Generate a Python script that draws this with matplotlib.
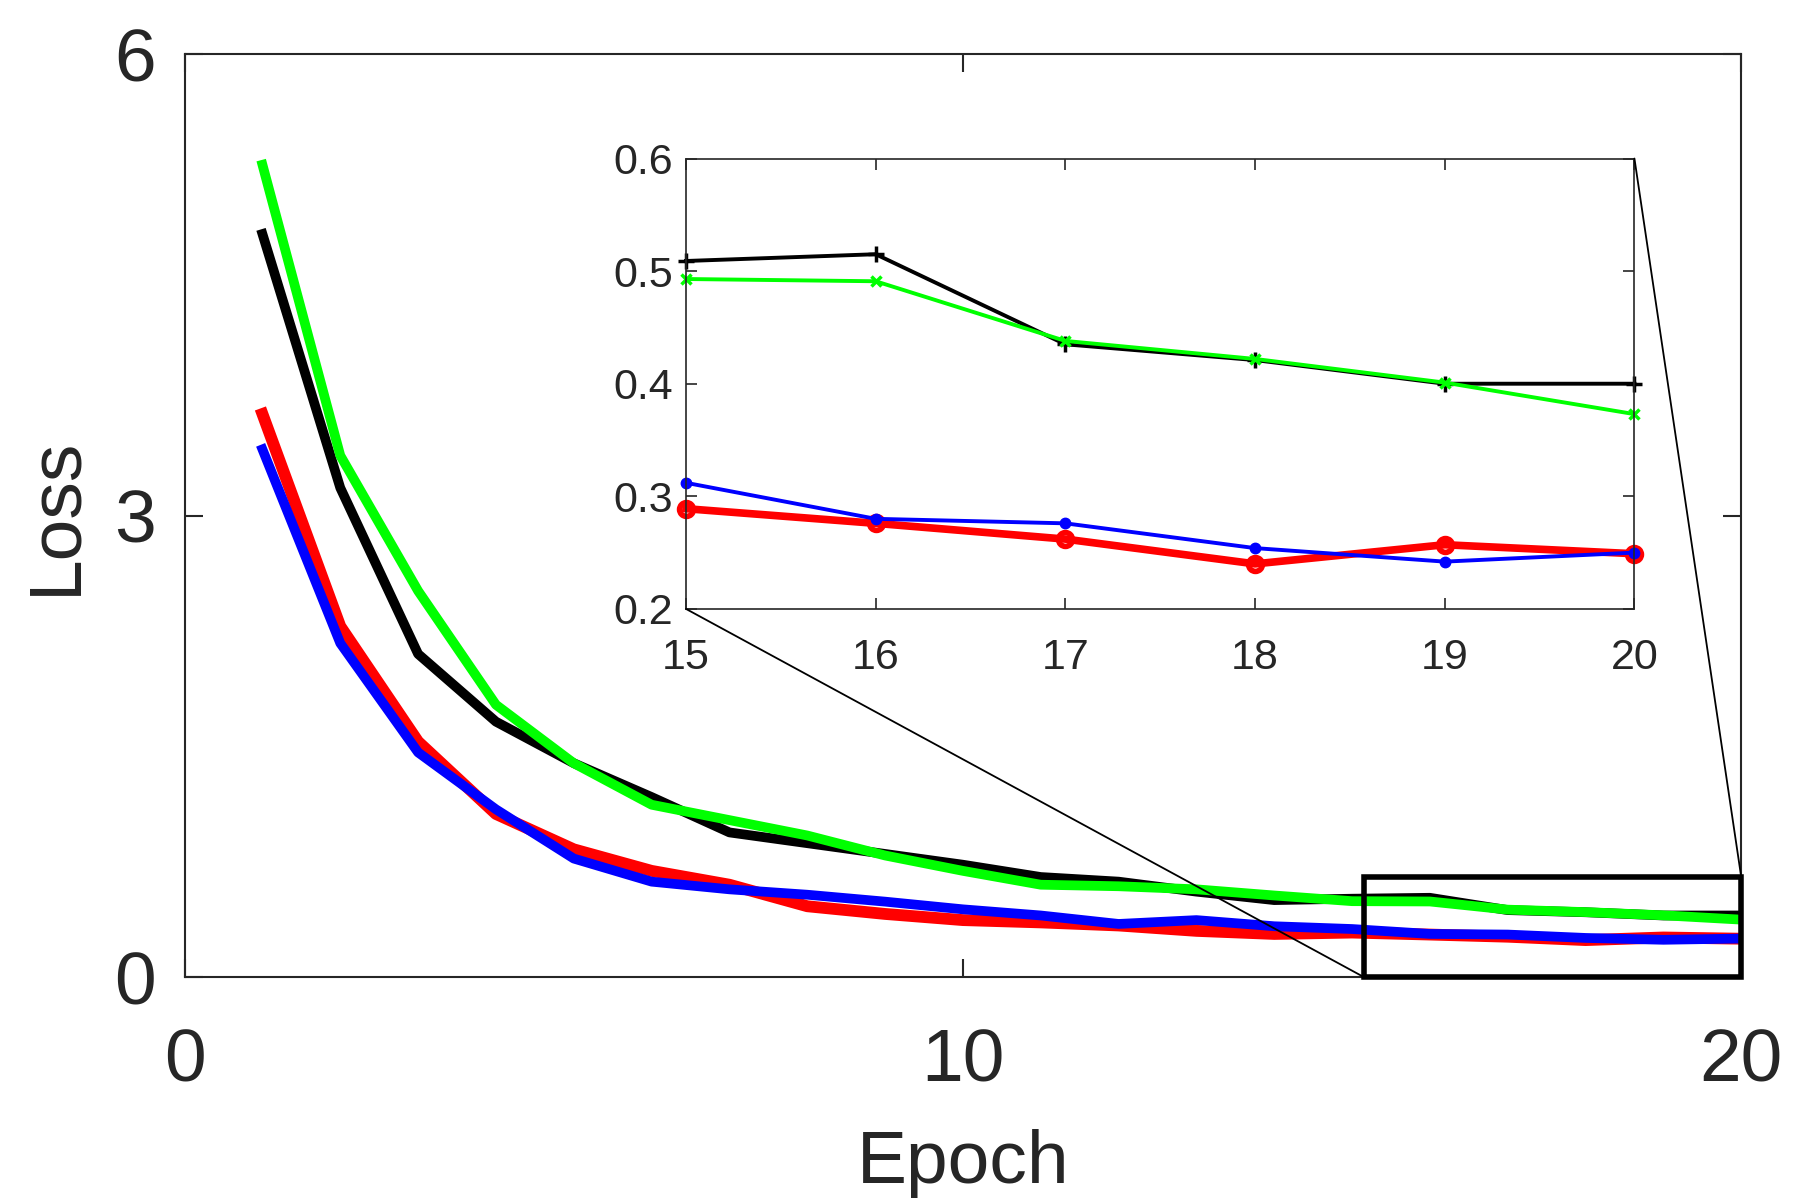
import numpy as np
import matplotlib
matplotlib.use('Agg')
from matplotlib import pyplot as plt
from matplotlib.patches import Rectangle, ConnectionPatch

plt.rcParams['font.family'] = ['Liberation Sans', 'DejaVu Sans']

epochs = list(range(1, 21))
loss_black = [4.83, 3.18, 2.10, 1.66, 1.39, 1.17, 0.94, 0.87, 0.80, 0.73,
              0.65, 0.62, 0.555, 0.50, 0.509, 0.515, 0.435, 0.421, 0.400, 0.400]
loss_green = [5.28, 3.39, 2.51, 1.77, 1.39, 1.12, 1.02, 0.92, 0.79, 0.69,
              0.60, 0.59, 0.57, 0.53, 0.493, 0.491, 0.438, 0.422, 0.401, 0.373]
loss_red = [3.66, 2.28, 1.53, 1.06, 0.83, 0.69, 0.60, 0.46, 0.41, 0.37,
            0.355, 0.335, 0.30, 0.28, 0.289, 0.276, 0.262, 0.240, 0.257, 0.249]
loss_blue = [3.43, 2.17, 1.46, 1.09, 0.77, 0.62, 0.57, 0.535, 0.49, 0.44,
             0.40, 0.345, 0.37, 0.33, 0.312, 0.280, 0.276, 0.254, 0.242, 0.250]

main_xticks = [0, 10, 20]
main_yticks = [0, 3, 6]
zoom_xticks = [15, 16, 17, 18, 19, 20]
zoom_yticks = [0.2, 0.3, 0.4, 0.5, 0.6]

axcol = (0.15, 0.15, 0.15)

fig = plt.figure(figsize=(18.1, 12.01), dpi=100)
ax = fig.add_axes([0.102, 0.1865, 0.860, 0.7685])

ax.plot(epochs, loss_black, color='k', lw=7)
ax.plot(epochs, loss_green, color=(0, 1, 0), lw=7)
ax.plot(epochs, loss_red, color=(1, 0, 0), lw=8.5)
ax.plot(epochs, loss_blue, color=(0, 0, 1), lw=7)

ax.set_xlim(0, 20)
ax.set_ylim(0, 6)
ax.set_xticks(main_xticks)
ax.set_yticks(main_yticks)
ax.tick_params(direction='in', length=13, width=1.5, colors=axcol,
               labelsize=54, top=True, right=True)
ax.tick_params(axis='x', pad=36)
ax.tick_params(axis='y', pad=21)
for s in ax.spines.values():
    s.set_color(axcol)
    s.set_linewidth(1.5)
ax.set_xlabel("Epoch", fontsize=54, color=axcol, labelpad=24)
ax.set_ylabel("Loss", fontsize=54, color=axcol, labelpad=17)

# zoom box on main axes
rect = Rectangle((15.15, 0), 20 - 15.15, 0.65, fill=False, edgecolor='k',
                 lw=4, clip_on=False, zorder=5)
ax.add_patch(rect)

# inset
axin = fig.add_axes([0.379, 0.493, 0.524, 0.375])
axin.plot(epochs[14:], loss_black[14:], color='k', lw=2.8, marker='+',
          ms=11, mew=2.5, clip_on=False)
axin.plot(epochs[14:], loss_green[14:], color=(0, 1, 0), lw=2.8, marker='x',
          ms=7, mew=2.5, clip_on=False)
axin.plot(epochs[14:], loss_red[14:], color=(1, 0, 0), lw=5.5, marker='o',
          ms=10, mew=4, mfc='none', clip_on=False)
axin.plot(epochs[14:], loss_blue[14:], color=(0, 0, 1), lw=2.8, marker='o',
          ms=7.5, clip_on=False)
axin.set_xlim(15, 20)
axin.set_ylim(0.2, 0.6)
axin.set_xticks(zoom_xticks)
axin.set_yticks(zoom_yticks)
axin.set_yticklabels(['0.2', '0.3', '0.4', '0.5', '0.6'])
axin.tick_params(direction='in', length=8, width=1.2, colors=axcol,
                 labelsize=31, top=True, right=True)
axin.tick_params(axis='x', pad=21)
axin.tick_params(axis='y', pad=9)
for s in axin.spines.values():
    s.set_color(axcol)
    s.set_linewidth(1.2)

# connector lines
con1 = ConnectionPatch(xyA=(15.15, 0), coordsA=ax.transData,
                       xyB=(0, 0), coordsB=axin.transAxes, color='k', lw=1.3)
con2 = ConnectionPatch(xyA=(20, 0.65), coordsA=ax.transData,
                       xyB=(1, 1), coordsB=axin.transAxes, color='k', lw=1.3)
fig.add_artist(con1)
fig.add_artist(con2)

plt.savefig("out.png", dpi=100)
